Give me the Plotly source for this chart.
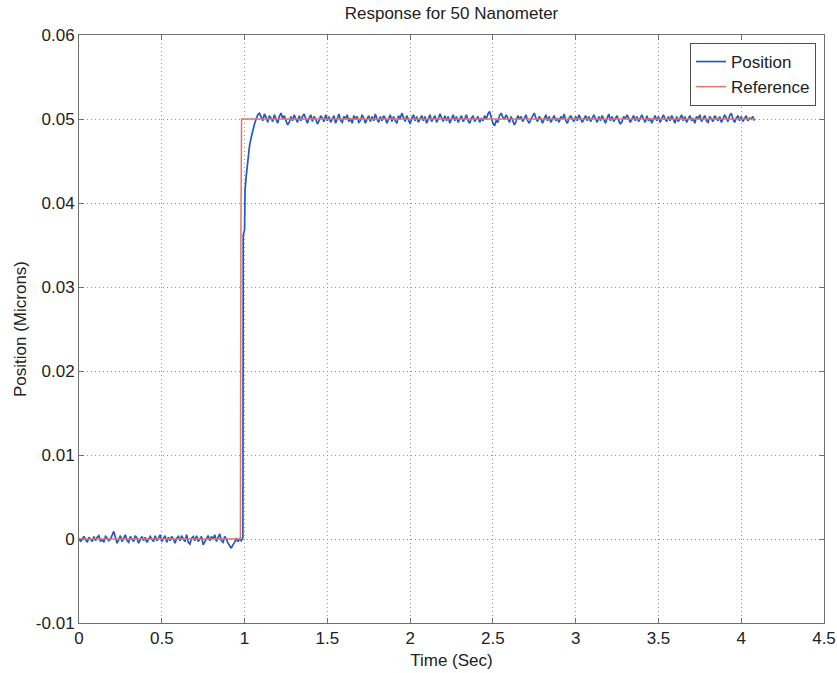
import numpy as np
import plotly.graph_objects as go

# ---- data (position values in units of 1e-4 microns) ----
pre_start, pre_step = 0.0, 0.01          # sampling of the pre-step segment
pre_pos = [1, -3, 0, 3, -1, -4, 2, 0, -3, 3,
           -2, 2, 4, -3, 0, -4, 3, 1, -2, 0,
           4, 9, 2, -5, -1, 4, -3, 1, 5, -2,
           -4, 3, 0, -3, 4, 1, -5, 0, 3, -2,
           2, -4, -1, 3, 0, -3, 4, -2, 1, 5,
           -3, 0, 4, -4, 2, -2, 3, 0, -5, 1,
           3, -2, 4, 0, -3, 5, -4, -6, 1, 3,
           -2, 4, -3, 0, 3, -7, -3, 1, 4, -2,
           3, 0, 5, -3, 1, 6, -2, -4, 3, 0,
           -5, -8, -11, -7, -4, 1, -3, 0, -2]

rise_t = [0.99, 0.992, 1.0, 1.003, 1.01, 1.02, 1.03, 1.04, 1.05, 1.06]
rise_pos = [2, 362, 368, 415, 432, 455, 468, 478, 487, 494]

post_start, post_step = 1.07, 0.01
post_pos = [500, 505, 507, 503, 498, 506, 502, 496, 504, 501,
            497, 505, 500, 495, 503, 507, 501, 504, 498, 493,
            496, 503, 498, 505, 500, 496, 504, 498, 503, 506,
            500, 495, 501, 505, 497, 503, 500, 494, 498, 504,
            501, 497, 505, 498, 503, 496, 500, 504, 495, 501,
            506, 498, 496, 503, 500, 505, 497, 501, 495, 504,
            500, 503, 496, 498, 505, 501, 495, 500, 504, 497,
            503, 498, 506, 500, 496, 503, 498, 504, 501, 495,
            500, 505, 497, 503, 498, 495, 504, 500, 507, 501,
            497, 504, 498, 494, 501, 505, 498, 503, 496, 500,
            504, 498, 503, 495, 500, 505, 497, 501, 504, 496,
            500, 506, 501, 497, 504, 498, 503, 495, 500, 505,
            498, 503, 496, 501, 504, 497, 500, 505, 498, 495,
            501, 504, 497, 500, 503, 496, 501, 498, 504, 500,
            506, 509, 503, 495, 492, 498, 496, 504, 507, 502,
            500, 505, 501, 496, 503, 498, 493, 497, 504, 500,
            503, 497, 501, 505, 498, 495, 500, 504, 507, 501,
            497, 503, 500, 495, 501, 505, 498, 503, 496, 500,
            504, 498, 501, 496, 503, 500, 506, 498, 495, 501,
            504, 500, 497, 503, 498, 505, 501, 496, 500, 504,
            498, 503, 497, 501, 505, 500, 496, 503, 498, 504,
            500, 495, 501, 506, 498, 503, 497, 500, 504, 498,
            494, 497, 503, 500, 505, 501, 496, 500, 504, 498,
            503, 497, 501, 505, 500, 496, 504, 498, 501, 495,
            500, 504, 498, 503, 496, 501, 505, 500, 497, 503,
            498, 504, 500, 495, 503, 497, 501, 505, 498, 503,
            496, 500, 504, 498, 501, 495, 503, 500, 505, 497,
            501, 504, 498, 496, 503, 500, 497, 504, 501, 498,
            503, 496, 500, 505, 501, 497, 504, 507, 500, 496,
            501, 504, 498, 503, 497, 500, 504, 498, 501, 500,
            503, 498]

ref_t = [0.0, 0.975, 0.978, 0.982, 4.08]
ref_pos = [0, 0, 365, 500, 500]

x_tickvals = [0, 0.5, 1, 1.5, 2, 2.5, 3, 3.5, 4, 4.5]
x_ticktext = ["0", "0.5", "1", "1.5", "2", "2.5", "3", "3.5", "4", "4.5"]
y_tickvals = [-0.01, 0, 0.01, 0.02, 0.03, 0.04, 0.05, 0.06]
y_ticktext = ["-0.01", "0", "0.01", "0.02", "0.03", "0.04", "0.05", "0.06"]

UNIT = 1e-4
pre_t = pre_start + pre_step * np.arange(len(pre_pos))
post_t = post_start + post_step * np.arange(len(post_pos))
pos_t = np.concatenate([pre_t, rise_t, post_t])
pos_y = np.array(pre_pos + rise_pos + post_pos) * UNIT
ref_y = np.array(ref_pos) * UNIT

FONT = "Liberation Sans, Arial, sans-serif"
W, H = 837, 673

fig = go.Figure()
fig.add_trace(go.Scatter(x=pos_t, y=pos_y, mode="lines", name="Position",
                         line=dict(color="#2458c8", width=1.7)))
fig.add_trace(go.Scatter(x=ref_t, y=ref_y, mode="lines", name="Reference",
                         line=dict(color="#e07868", width=1.5)))

axis_common = dict(showline=True, linecolor="#707070", linewidth=1, mirror="ticks",
                   ticks="inside", ticklen=5, tickcolor="#707070",
                   showgrid=True, gridcolor="#8f97a3", griddash="1px,3px", gridwidth=1,
                   zeroline=False, automargin=False,
                   tickfont=dict(family=FONT, size=17, color="#222222"))

fig.update_layout(
    width=W, height=H,
    margin=dict(l=79, r=13, t=35, b=50),
    paper_bgcolor="white", plot_bgcolor="white",
    font=dict(family=FONT, size=17, color="#222222"),
    title=dict(text="Response for 50 Nanometer", x=0.5, xref="paper", xanchor="center",
               y=1 - 13 / H, yref="container", yanchor="middle",
               font=dict(family=FONT, size=17, color="#222222")),
    xaxis=dict(range=[0, 4.5], tickvals=x_tickvals, ticktext=x_ticktext,
               title=dict(text="Time (Sec)", standoff=6, font=dict(size=17)), **axis_common),
    yaxis=dict(range=[-0.01, 0.06], tickvals=y_tickvals, ticktext=y_ticktext,
               title=dict(text="Position (Microns)", standoff=4, font=dict(size=17)), **axis_common),
    legend=dict(x=(816 - 79) / 745, xanchor="right", y=(623 - 43) / 588, yanchor="top",
                bgcolor="white", bordercolor="#505050", borderwidth=1,
                font=dict(family=FONT, size=17, color="#222222"),
                tracegroupgap=0, itemwidth=30),
    showlegend=True,
)

fig.write_html("out.html", config={"displayModeBar": False},
               post_script="document.body.style.margin='0px';document.body.style.overflow='hidden';")
